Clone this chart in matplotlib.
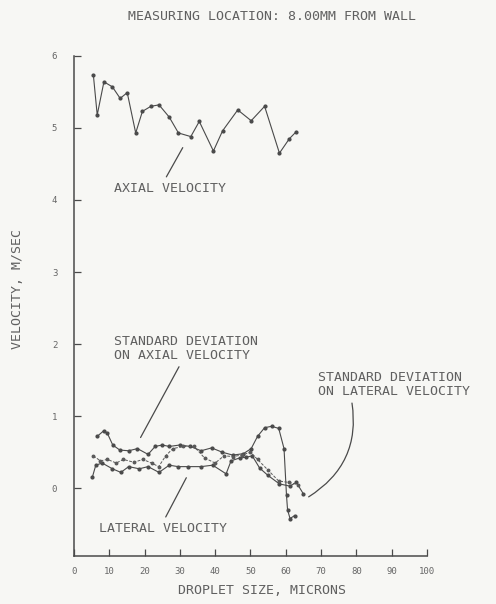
import matplotlib
matplotlib.use("Agg")
import matplotlib.pyplot as plt

# --- data ---
axial_x = [5.5, 6.6, 8.5, 10.9, 13.1, 15.1, 17.5, 19.4, 21.8, 24.1, 27.0, 29.6,
           33.1, 35.5, 39.5, 42.1, 46.4, 50.2, 54.0, 58.2, 61.0, 63.0]
axial_y = [5.74, 5.18, 5.64, 5.57, 5.41, 5.49, 4.93, 5.23, 5.30, 5.32, 5.15, 4.93,
           4.88, 5.09, 4.68, 4.96, 5.25, 5.10, 5.30, 4.65, 4.85, 4.95]

std_axial_x = [6.6, 8.5, 9.5, 11.0, 13.0, 15.5, 18.0, 21.0, 23.0, 25.0, 27.0, 30.0,
               33.0, 36.0, 39.0, 42.0, 45.0, 48.0, 50.2, 52.0, 54.0, 56.0, 58.0,
               59.5, 60.2, 60.5, 61.2, 62.5]
std_axial_y = [0.72, 0.80, 0.76, 0.60, 0.53, 0.52, 0.55, 0.47, 0.58, 0.60, 0.58, 0.60,
               0.58, 0.52, 0.56, 0.50, 0.46, 0.48, 0.55, 0.72, 0.84, 0.86, 0.83,
               0.55, -0.10, -0.30, -0.42, -0.38]

lateral_x = [5.2, 6.2, 8.0, 10.9, 13.3, 15.5, 18.5, 21.0, 24.1, 27.0, 29.5, 32.2,
             36.0, 39.3, 43.1, 44.5, 46.9, 48.8, 50.5, 52.6, 54.9, 58.2, 61.1, 63.0, 65.0]
lateral_y = [0.15, 0.32, 0.35, 0.27, 0.22, 0.30, 0.27, 0.30, 0.22, 0.32, 0.30, 0.30,
             0.30, 0.32, 0.20, 0.38, 0.42, 0.43, 0.45, 0.28, 0.18, 0.06, 0.03, 0.08, -0.08]

std_lat_x = [5.5, 7.5, 9.5, 12.0, 14.0, 17.0, 19.5, 22.0, 24.0, 26.0, 28.0, 31.0,
             34.0, 37.0, 40.0, 42.5, 45.0, 47.5, 50.0, 52.0, 55.0, 58.0, 61.0, 63.5]
std_lat_y = [0.45, 0.38, 0.40, 0.35, 0.40, 0.36, 0.40, 0.35, 0.30, 0.45, 0.55, 0.58,
             0.58, 0.42, 0.35, 0.45, 0.44, 0.46, 0.50, 0.40, 0.25, 0.10, 0.08, 0.05]

x_ticks = [0, 10, 20, 30, 40, 50, 60, 70, 80, 90, 100]
y_ticks = [0, 1, 2, 3, 4, 5, 6]

INK = "#4a4a4a"
BG = "#f7f7f4"
MONO = "DejaVu Sans Mono"

fig = plt.figure(figsize=(4.96, 6.04), dpi=100, facecolor=BG)
ax = fig.add_axes([0.149, 0.0795, 0.712, 0.828], facecolor=BG)

line_kw = dict(color=INK, lw=0.8, marker="o", ms=2.0, mfc=INK, mec=INK)
ax.plot(axial_x, axial_y, **line_kw)
ax.plot(std_axial_x, std_axial_y, **line_kw)
ax.plot(lateral_x, lateral_y, **line_kw)
ax.plot(std_lat_x, std_lat_y, color="#5a5a5a", lw=0.7, marker="o", ms=1.8,
        ls=(0, (3, 1.5)))

ax.set_xlim(0, 100)
ax.set_ylim(-0.94, 6.0)
ax.set_xticks(x_ticks)
ax.set_yticks(y_ticks)
ax.tick_params(direction="in", length=5, width=0.9, colors=INK, labelsize=6.5)
ax.tick_params(axis="y", pad=12)
ax.tick_params(axis="x", pad=8)
for lab in ax.get_xticklabels() + ax.get_yticklabels():
    lab.set_family(MONO)
    lab.set_color("#666666")
for s in ("top", "right"):
    ax.spines[s].set_visible(False)
for s in ("left", "bottom"):
    ax.spines[s].set_color(INK)
    ax.spines[s].set_linewidth(1.1)

txt = dict(family=MONO, color="#606060", fontsize=9.5)
ax.set_xlabel("DROPLET SIZE, MICRONS", **txt)
ax.xaxis.set_label_coords(0.533, -0.056)
ax.set_ylabel("VELOCITY, M/SEC", **txt)
ax.yaxis.set_label_coords(-0.142, 0.534)
fig.text(0.548, 0.973, "MEASURING LOCATION: 8.00MM FROM WALL", ha="center", va="center", **txt)

arrow = dict(arrowstyle="-", color=INK, lw=0.9)
ax.annotate("AXIAL VELOCITY", xy=(31.2, 4.76), xytext=(11.4, 4.11), textcoords="data",
            arrowprops=dict(arrow, relpos=(0.44, 1.0)), **txt)
ax.annotate("STANDARD DEVIATION\nON AXIAL VELOCITY", xy=(18.5, 0.67), xytext=(11.4, 1.8),
            arrowprops=dict(arrow, relpos=(0.47, 0.0)), linespacing=1.05, **txt)
ax.annotate("LATERAL VELOCITY", xy=(32.2, 0.18), xytext=(7.1, -0.61),
            arrowprops=dict(arrow, relpos=(0.5, 1.0)), **txt)
ax.annotate("STANDARD DEVIATION\nON LATERAL VELOCITY", xy=(65.8, -0.14), xytext=(69.0, 1.3),
            arrowprops=dict(arrow, relpos=(0.22, 0.0), connectionstyle="arc3,rad=-0.35"),
            linespacing=1.05, annotation_clip=False, **txt)

fig.savefig("out.png", dpi=100, facecolor=BG)
